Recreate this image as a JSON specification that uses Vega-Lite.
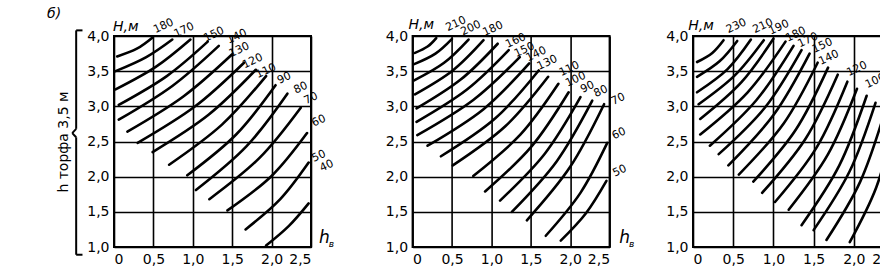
{
  "$schema": "https://vega.github.io/schema/vega-lite/v6.json",
  "background": "white",
  "padding": {"left": 46, "top": 6, "right": 0, "bottom": 0},
  "config": {
    "view": {"stroke": "black", "strokeWidth": 2},
    "axis": {
      "grid": true, "gridColor": "black", "gridWidth": 1.6, "gridOpacity": 1,
      "domain": false, "ticks": false,
      "labelFont": "DejaVu Sans", "labelFontSize": 14, "labelColor": "black",
      "titleFont": "DejaVu Sans", "titleFontSize": 14, "titleFontWeight": "normal", "titleColor": "black"
    },
    "text": {"font": "DejaVu Sans", "color": "black"}
  },
  "datasets": {
    "p1c": [
      {"c":1,"o":0,"x":0.04,"y":3.71},{"c":1,"o":1,"x":0.29,"y":3.82},{"c":1,"o":2,"x":0.49,"y":3.98},
      {"c":2,"o":0,"x":0.02,"y":3.50},{"c":2,"o":1,"x":0.41,"y":3.70},{"c":2,"o":2,"x":0.74,"y":3.95},
      {"c":3,"o":0,"x":0.02,"y":3.24},{"c":3,"o":1,"x":0.53,"y":3.56},{"c":3,"o":2,"x":0.97,"y":3.95},
      {"c":4,"o":0,"x":0.06,"y":3.02},{"c":4,"o":1,"x":0.67,"y":3.43},{"c":4,"o":2,"x":1.19,"y":3.92},
      {"c":5,"o":0,"x":0.06,"y":2.81},{"c":5,"o":1,"x":0.74,"y":3.29},{"c":5,"o":2,"x":1.33,"y":3.86},
      {"c":6,"o":0,"x":0.17,"y":2.64},{"c":6,"o":1,"x":0.88,"y":3.14},{"c":6,"o":2,"x":1.50,"y":3.74},
      {"c":7,"o":0,"x":0.30,"y":2.48},{"c":7,"o":1,"x":1.03,"y":3.00},{"c":7,"o":2,"x":1.65,"y":3.62},
      {"c":8,"o":0,"x":0.49,"y":2.35},{"c":8,"o":1,"x":1.20,"y":2.88},{"c":8,"o":2,"x":1.80,"y":3.52},
      {"c":9,"o":0,"x":0.70,"y":2.17},{"c":9,"o":1,"x":1.37,"y":2.74},{"c":9,"o":2,"x":1.93,"y":3.43},
      {"c":10,"o":0,"x":0.93,"y":2.02},{"c":10,"o":1,"x":1.55,"y":2.60},{"c":10,"o":2,"x":2.05,"y":3.30},
      {"c":11,"o":0,"x":1.04,"y":1.81},{"c":11,"o":1,"x":1.68,"y":2.43},{"c":11,"o":2,"x":2.20,"y":3.18},
      {"c":12,"o":0,"x":1.21,"y":1.68},{"c":12,"o":1,"x":1.85,"y":2.27},{"c":12,"o":2,"x":2.37,"y":2.98},
      {"c":13,"o":0,"x":1.44,"y":1.52},{"c":13,"o":1,"x":2.00,"y":2.01},{"c":13,"o":2,"x":2.45,"y":2.62},
      {"c":14,"o":0,"x":1.67,"y":1.25},{"c":14,"o":1,"x":2.11,"y":1.68},{"c":14,"o":2,"x":2.47,"y":2.20},
      {"c":15,"o":0,"x":1.93,"y":1.02},{"c":15,"o":1,"x":2.22,"y":1.30},{"c":15,"o":2,"x":2.47,"y":1.62}
    ],
    "p1l": [
      {"t":"180","x":0.63,"y":4.14},{"t":"170","x":0.89,"y":4.08},{"t":"150","x":1.27,"y":4.02},
      {"t":"140","x":1.56,"y":3.99},{"t":"130","x":1.59,"y":3.80},{"t":"120","x":1.76,"y":3.64},
      {"t":"110","x":1.93,"y":3.50},{"t":"90","x":2.16,"y":3.40},{"t":"80","x":2.37,"y":3.26},
      {"t":"70","x":2.50,"y":3.11},{"t":"60","x":2.60,"y":2.79},{"t":"50","x":2.60,"y":2.29},
      {"t":"40","x":2.70,"y":2.15}
    ],
    "p2c": [
      {"c":1,"o":0,"x":0.03,"y":3.76},{"c":1,"o":1,"x":0.19,"y":3.85},{"c":1,"o":2,"x":0.30,"y":3.97},
      {"c":2,"o":0,"x":0.02,"y":3.60},{"c":2,"o":1,"x":0.29,"y":3.75},{"c":2,"o":2,"x":0.50,"y":3.96},
      {"c":3,"o":0,"x":0.02,"y":3.37},{"c":3,"o":1,"x":0.40,"y":3.62},{"c":3,"o":2,"x":0.71,"y":3.95},
      {"c":4,"o":0,"x":0.03,"y":3.17},{"c":4,"o":1,"x":0.51,"y":3.51},{"c":4,"o":2,"x":0.90,"y":3.94},
      {"c":5,"o":0,"x":0.05,"y":2.97},{"c":5,"o":1,"x":0.61,"y":3.38},{"c":5,"o":2,"x":1.08,"y":3.89},
      {"c":6,"o":0,"x":0.05,"y":2.78},{"c":6,"o":1,"x":0.69,"y":3.24},{"c":6,"o":2,"x":1.22,"y":3.80},
      {"c":7,"o":0,"x":0.06,"y":2.59},{"c":7,"o":1,"x":0.77,"y":3.09},{"c":7,"o":2,"x":1.36,"y":3.70},
      {"c":8,"o":0,"x":0.19,"y":2.44},{"c":8,"o":1,"x":0.90,"y":2.96},{"c":8,"o":2,"x":1.48,"y":3.61},
      {"c":9,"o":0,"x":0.36,"y":2.29},{"c":9,"o":1,"x":1.05,"y":2.83},{"c":9,"o":2,"x":1.60,"y":3.51},
      {"c":10,"o":0,"x":0.51,"y":2.16},{"c":10,"o":1,"x":1.18,"y":2.72},{"c":10,"o":2,"x":1.72,"y":3.42},
      {"c":11,"o":0,"x":0.77,"y":2.01},{"c":11,"o":1,"x":1.37,"y":2.60},{"c":11,"o":2,"x":1.85,"y":3.32},
      {"c":12,"o":0,"x":0.92,"y":1.79},{"c":12,"o":1,"x":1.51,"y":2.43},{"c":12,"o":2,"x":1.98,"y":3.20},
      {"c":13,"o":0,"x":1.11,"y":1.66},{"c":13,"o":1,"x":1.68,"y":2.33},{"c":13,"o":2,"x":2.13,"y":3.13},
      {"c":14,"o":0,"x":1.26,"y":1.50},{"c":14,"o":1,"x":1.83,"y":2.22},{"c":14,"o":2,"x":2.28,"y":3.08},
      {"c":15,"o":0,"x":1.45,"y":1.38},{"c":15,"o":1,"x":2.00,"y":2.14},{"c":15,"o":2,"x":2.43,"y":3.03},
      {"c":16,"o":0,"x":1.69,"y":1.16},{"c":16,"o":1,"x":2.13,"y":1.77},{"c":16,"o":2,"x":2.47,"y":2.48},
      {"c":17,"o":0,"x":1.88,"y":1.09},{"c":17,"o":1,"x":2.20,"y":1.48},{"c":17,"o":2,"x":2.46,"y":1.94}
    ],
    "p2l": [
      {"t":"210","x":0.55,"y":4.17},{"t":"200","x":0.74,"y":4.11},{"t":"180","x":1.02,"y":4.10},
      {"t":"160","x":1.31,"y":3.93},{"t":"150","x":1.42,"y":3.80},{"t":"140","x":1.57,"y":3.74},
      {"t":"130","x":1.71,"y":3.62},{"t":"110","x":1.99,"y":3.53},{"t":"100","x":2.07,"y":3.38},
      {"t":"90","x":2.22,"y":3.27},{"t":"80","x":2.39,"y":3.21},{"t":"70","x":2.61,"y":3.10},
      {"t":"60","x":2.62,"y":2.61},{"t":"50","x":2.63,"y":2.08}
    ],
    "p3c": [
      {"c":1,"o":0,"x":0.05,"y":3.63},{"c":1,"o":1,"x":0.24,"y":3.76},{"c":1,"o":2,"x":0.38,"y":3.94},
      {"c":2,"o":0,"x":0.05,"y":3.42},{"c":2,"o":1,"x":0.33,"y":3.64},{"c":2,"o":2,"x":0.55,"y":3.93},
      {"c":3,"o":0,"x":0.05,"y":3.20},{"c":3,"o":1,"x":0.43,"y":3.53},{"c":3,"o":2,"x":0.72,"y":3.95},
      {"c":4,"o":0,"x":0.07,"y":3.03},{"c":4,"o":1,"x":0.52,"y":3.44},{"c":4,"o":2,"x":0.88,"y":3.94},
      {"c":5,"o":0,"x":0.09,"y":2.82},{"c":5,"o":1,"x":0.60,"y":3.34},{"c":5,"o":2,"x":1.00,"y":3.96},
      {"c":6,"o":0,"x":0.09,"y":2.60},{"c":6,"o":1,"x":0.68,"y":3.20},{"c":6,"o":2,"x":1.15,"y":3.92},
      {"c":7,"o":0,"x":0.21,"y":2.44},{"c":7,"o":1,"x":0.79,"y":3.09},{"c":7,"o":2,"x":1.25,"y":3.86},
      {"c":8,"o":0,"x":0.32,"y":2.32},{"c":8,"o":1,"x":0.90,"y":2.99},{"c":8,"o":2,"x":1.35,"y":3.80},
      {"c":9,"o":0,"x":0.44,"y":2.16},{"c":9,"o":1,"x":1.01,"y":2.89},{"c":9,"o":2,"x":1.45,"y":3.75},
      {"c":10,"o":0,"x":0.57,"y":2.03},{"c":10,"o":1,"x":1.13,"y":2.76},{"c":10,"o":2,"x":1.55,"y":3.62},
      {"c":11,"o":0,"x":0.75,"y":1.93},{"c":11,"o":1,"x":1.28,"y":2.67},{"c":11,"o":2,"x":1.68,"y":3.55},
      {"c":12,"o":0,"x":0.86,"y":1.77},{"c":12,"o":1,"x":1.40,"y":2.54},{"c":12,"o":2,"x":1.80,"y":3.45},
      {"c":13,"o":0,"x":1.02,"y":1.64},{"c":13,"o":1,"x":1.54,"y":2.42},{"c":13,"o":2,"x":1.92,"y":3.35},
      {"c":14,"o":0,"x":1.19,"y":1.53},{"c":14,"o":1,"x":1.68,"y":2.32},{"c":14,"o":2,"x":2.04,"y":3.25},
      {"c":15,"o":0,"x":1.35,"y":1.31},{"c":15,"o":1,"x":1.82,"y":2.16},{"c":15,"o":2,"x":2.16,"y":3.15},
      {"c":16,"o":0,"x":1.50,"y":1.24},{"c":16,"o":1,"x":1.95,"y":2.08},{"c":16,"o":2,"x":2.27,"y":3.05},
      {"c":17,"o":0,"x":1.66,"y":1.10},{"c":17,"o":1,"x":2.08,"y":1.93},{"c":17,"o":2,"x":2.38,"y":2.90},
      {"c":18,"o":0,"x":1.95,"y":1.07},{"c":18,"o":1,"x":2.28,"y":1.85},{"c":18,"o":2,"x":2.50,"y":2.75}
    ],
    "p3l": [
      {"t":"230","x":0.54,"y":4.14},{"t":"210","x":0.87,"y":4.14},{"t":"190","x":1.07,"y":4.12},
      {"t":"180","x":1.28,"y":4.02},{"t":"170","x":1.43,"y":3.94},{"t":"150","x":1.61,"y":3.86},
      {"t":"140","x":1.69,"y":3.69},{"t":"120","x":2.04,"y":3.53},{"t":"100","x":2.27,"y":3.36}
    ],
    "bracket": [
      {"x":-0.48,"x2":-0.48,"y":0.89,"y2":2.56},
      {"x":-0.48,"x2":-0.48,"y":2.68,"y2":4.08},
      {"x":-0.48,"x2":-0.40,"y":4.08,"y2":4.08},
      {"x":-0.48,"x2":-0.40,"y":0.89,"y2":0.89},
      {"x":-0.48,"x2":-0.53,"y":2.68,"y2":2.62},
      {"x":-0.53,"x2":-0.48,"y":2.62,"y2":2.56}
    ]
  },
  "spacing": 28,
  "hconcat": [
    {
      "bounds": "flush",
      "spacing": 101.6,
      "hconcat": [
        {
          "width": 197, "height": 211,
          "encoding": {
            "x": {"field": "x", "type": "quantitative", "scale": {"domain": [0, 2.5], "nice": false, "zero": false},
                  "axis": {"values": [0, 0.5, 1, 1.5, 2, 2.5], "title": null, "labelPadding": 5,
                           "labelExpr": "datum.value == 0 ? '0' : replace(format(datum.value, '.1f'), '.', ',')"}},
            "y": {"field": "y", "type": "quantitative", "scale": {"domain": [1, 4], "nice": false, "zero": false},
                  "axis": {"values": [1, 1.5, 2, 2.5, 3, 3.5, 4], "title": "h торфа 3,5 м", "titlePadding": 16, "labelPadding": 5,
                           "labelExpr": "replace(format(datum.value, '.1f'), '.', ',')"}}
          },
          "layer": [
            {"data": {"name": "p1c"},
             "mark": {"type": "line", "interpolate": "natural", "strokeWidth": 2.6, "color": "black", "strokeCap": "round"},
             "encoding": {"detail": {"field": "c"}, "order": {"field": "o"}}},
            {"data": {"name": "p1l"},
             "mark": {"type": "text", "angle": -25, "fontSize": 11},
             "encoding": {"text": {"field": "t"}}},
            {"data": {"values": [{"t": "H,м", "x": 0.15, "y": 4.13}]},
             "mark": {"type": "text", "fontSize": 14, "fontStyle": "italic"},
             "encoding": {"text": {"field": "t"}}},
            {"data": {"values": [{"t": "б)", "x": -0.76, "y": 4.31}]},
             "mark": {"type": "text", "fontSize": 14, "fontStyle": "italic"},
             "encoding": {"text": {"field": "t"}}},
            {"data": {"values": [{"t": "h", "x": 2.67, "y": 1.13}]},
             "mark": {"type": "text", "fontSize": 17, "fontStyle": "italic"},
             "encoding": {"text": {"field": "t"}}},
            {"data": {"values": [{"t": "в", "x": 2.76, "y": 1.04}]},
             "mark": {"type": "text", "fontSize": 9, "fontStyle": "italic"},
             "encoding": {"text": {"field": "t"}}},
            {"data": {"name": "bracket"},
             "mark": {"type": "rule", "strokeWidth": 2, "color": "black"},
             "encoding": {"x2": {"field": "x2"}, "y2": {"field": "y2"}}}
          ]
        },
        {
          "width": 197, "height": 211,
          "encoding": {
            "x": {"field": "x", "type": "quantitative", "scale": {"domain": [0, 2.5], "nice": false, "zero": false},
                  "axis": {"values": [0, 0.5, 1, 1.5, 2, 2.5], "title": null, "labelPadding": 5,
                           "labelExpr": "datum.value == 0 ? '0' : replace(format(datum.value, '.1f'), '.', ',')"}},
            "y": {"field": "y", "type": "quantitative", "scale": {"domain": [1, 4], "nice": false, "zero": false},
                  "axis": {"values": [1, 1.5, 2, 2.5, 3, 3.5, 4], "title": null, "labelPadding": 5,
                           "labelExpr": "replace(format(datum.value, '.1f'), '.', ',')"}}
          },
          "layer": [
            {"data": {"name": "p2c"},
             "mark": {"type": "line", "interpolate": "natural", "strokeWidth": 2.6, "color": "black", "strokeCap": "round"},
             "encoding": {"detail": {"field": "c"}, "order": {"field": "o"}}},
            {"data": {"name": "p2l"},
             "mark": {"type": "text", "angle": -25, "fontSize": 11},
             "encoding": {"text": {"field": "t"}}},
            {"data": {"values": [{"t": "H,м", "x": 0.11, "y": 4.15}]},
             "mark": {"type": "text", "fontSize": 14, "fontStyle": "italic"},
             "encoding": {"text": {"field": "t"}}},
            {"data": {"values": [{"t": "h", "x": 2.69, "y": 1.13}]},
             "mark": {"type": "text", "fontSize": 17, "fontStyle": "italic"},
             "encoding": {"text": {"field": "t"}}},
            {"data": {"values": [{"t": "в", "x": 2.78, "y": 1.04}]},
             "mark": {"type": "text", "fontSize": 9, "fontStyle": "italic"},
             "encoding": {"text": {"field": "t"}}}
          ]
        }
      ]
    },
    {
      "width": 201, "height": 211,
      "encoding": {
        "x": {"field": "x", "type": "quantitative", "scale": {"domain": [0, 2.5], "nice": false, "zero": false},
              "axis": {"values": [0, 0.5, 1, 1.5, 2, 2.5], "title": null, "labelPadding": 5,
                       "labelExpr": "datum.value == 0 ? '0' : replace(format(datum.value, '.1f'), '.', ',')"}},
        "y": {"field": "y", "type": "quantitative", "scale": {"domain": [1, 4], "nice": false, "zero": false},
              "axis": {"values": [1, 1.5, 2, 2.5, 3, 3.5, 4], "title": null, "labelPadding": 5,
                       "labelExpr": "replace(format(datum.value, '.1f'), '.', ',')"}}
      },
      "layer": [
        {"data": {"name": "p3c"},
         "mark": {"type": "line", "interpolate": "natural", "strokeWidth": 2.6, "color": "black", "strokeCap": "round"},
         "encoding": {"detail": {"field": "c"}, "order": {"field": "o"}}},
        {"data": {"name": "p3l"},
         "mark": {"type": "text", "angle": -25, "fontSize": 11},
         "encoding": {"text": {"field": "t"}}},
        {"data": {"values": [{"t": "H,м", "x": 0.10, "y": 4.14}]},
         "mark": {"type": "text", "fontSize": 14, "fontStyle": "italic"},
         "encoding": {"text": {"field": "t"}}}
      ]
    }
  ]
}
